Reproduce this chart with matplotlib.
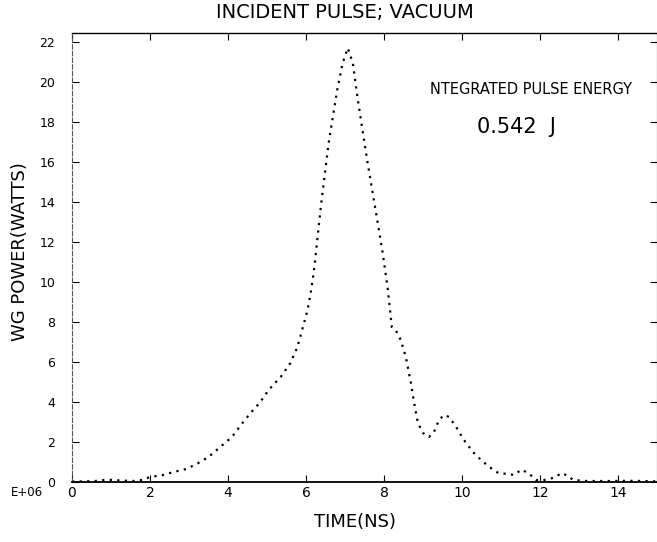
import matplotlib
matplotlib.use('Agg')
import matplotlib.pyplot as plt

# Pulso incidente no vacuo (tempo em ns, potencia em unidades de 1E+06 W)
tempo = [0.0, 0.3, 0.6, 0.9, 1.2, 1.57, 1.8, 2.0, 2.34, 2.6, 2.93, 3.24, 3.5,
         3.86, 4.1, 4.37, 4.58, 4.83, 5.04, 5.35, 5.6, 5.78, 5.9, 6.04, 6.12,
         6.2, 6.38, 6.58, 6.8, 6.94, 7.07, 7.2, 7.33, 7.46, 7.58, 7.71, 7.84,
         7.97, 8.1, 8.2, 8.3, 8.43, 8.56, 8.69, 8.79, 8.87, 9.0, 9.15, 9.28,
         9.41, 9.54, 9.67, 9.85, 10.05, 10.28, 10.49, 10.7, 10.93, 11.18,
         11.34, 11.52, 11.7, 11.9, 12.1, 12.24, 12.4, 12.55, 12.72, 12.85,
         13.2, 13.8, 14.4, 15.0]
potencia = [0.02, 0.03, 0.05, 0.12, 0.08, 0.05, 0.1, 0.25, 0.35, 0.5, 0.65,
            0.95, 1.25, 1.85, 2.25, 2.95, 3.45, 4.0, 4.6, 5.25, 5.95, 6.75,
            7.6, 8.6, 9.45, 10.5, 13.75, 16.95, 19.6, 20.95, 21.7, 20.95,
            19.1, 17.45, 15.95, 14.45, 12.95, 11.4, 9.6, 7.75, 7.6, 7.1,
            6.25, 4.95, 3.75, 2.95, 2.45, 2.25, 2.5, 3.1, 3.35, 3.25, 2.75,
            2.1, 1.5, 1.1, 0.75, 0.45, 0.4, 0.35, 0.62, 0.45, 0.1, 0.1, 0.15,
            0.25, 0.45, 0.3, 0.1, 0.05, 0.05, 0.06, 0.03]

ticks_x = [0, 2, 4, 6, 8, 10, 12, 14]
ticks_y = [0, 2, 4, 6, 8, 10, 12, 14, 16, 18, 20, 22]

fig = plt.figure(figsize=(6.57, 5.42), dpi=100)
ax = fig.add_axes([72 / 657, 60 / 542, 585 / 657, 449 / 542])

ax.plot(tempo, potencia, color='black', linewidth=1.6, linestyle=(0, (1, 2.4)))

ax.set_xlim(0, 15)
ax.set_ylim(0, 22.45)
ax.set_xticks(ticks_x)
ax.set_yticks(ticks_y)
ax.set_xticklabels([str(t) for t in ticks_x], fontsize=10)
ax.set_yticklabels([str(t) for t in ticks_y], fontsize=9)
ax.tick_params(axis='both', direction='in', length=5, width=0.8,
               top=True, right=True)
ax.tick_params(axis='x', pad=3)
ax.tick_params(axis='y', pad=12)

ax.spines['left'].set_linestyle((0, (4, 2)))
ax.spines['left'].set_color('#555555')
ax.spines['left'].set_linewidth(0.8)
ax.spines['bottom'].set_linewidth(1.3)
ax.spines['top'].set_linewidth(1.0)

fig.text(345 / 657, 1 - 12 / 542, 'INCIDENT PULSE; VACUUM', ha='center',
         va='center', fontsize=14)
fig.text(20 / 657, 1 - 252 / 542, 'WG POWER(WATTS)', rotation=90, ha='center',
         va='center', fontsize=13)
fig.text(355 / 657, 1 - 522 / 542, 'TIME(NS)', ha='center', va='center',
         fontsize=13)
fig.text(27 / 657, 1 - 493 / 542, 'E+06', ha='center', va='center', fontsize=8.5)

fig.text(531 / 657, 1 - 90 / 542, 'NTEGRATED PULSE ENERGY', ha='center',
         va='center', fontsize=10.5)
fig.text(516 / 657, 1 - 127 / 542, '0.542  J', ha='center', va='center',
         fontsize=15)

fig.savefig('out.png', dpi=100)
plt.close(fig)
